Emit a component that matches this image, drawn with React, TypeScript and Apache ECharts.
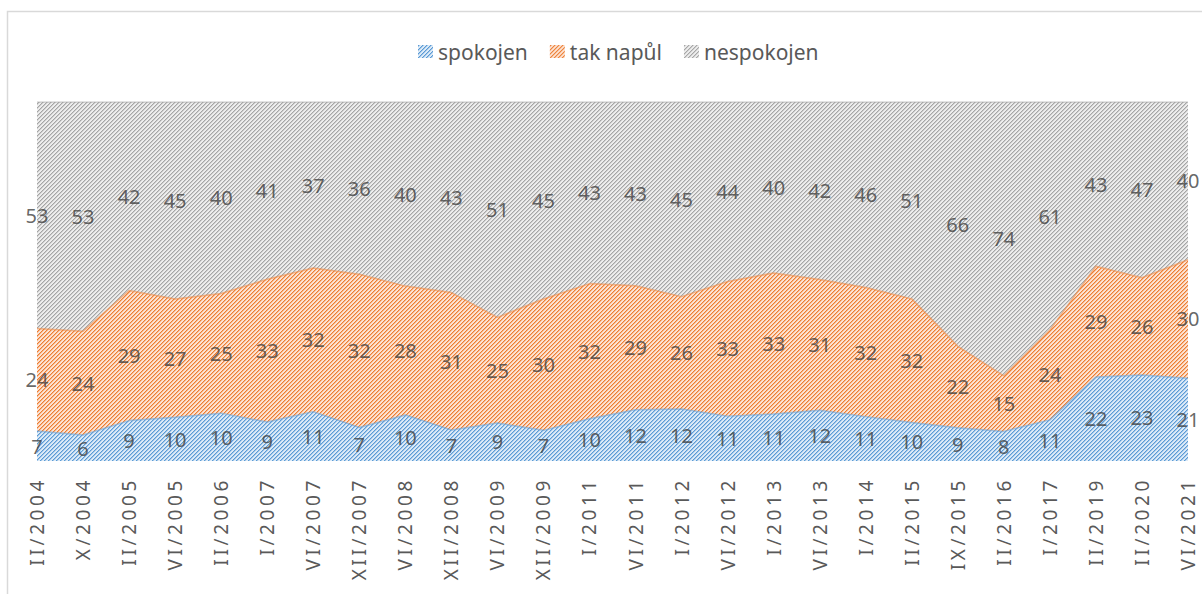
import React, { useEffect, useRef } from "react";
import * as echarts from "echarts";

const categories = [
  "II/2004", "X/2004", "II/2005", "VI/2005", "II/2006", "I/2007", "VI/2007", "XII/2007",
  "VI/2008", "XII/2008", "VI/2009", "XII/2009", "I/2011", "VI/2011", "I/2012", "VI/2012",
  "I/2013", "VI/2013", "I/2014", "II/2015", "IX/2015", "II/2016", "I/2017", "II/2019",
  "II/2020", "VI/2021",
];
const spokojen = [7, 6, 9, 10, 10, 9, 11, 7, 10, 7, 9, 7, 10, 12, 12, 11, 11, 12, 11, 10, 9, 8, 11, 22, 23, 21];
const takNapul = [24, 24, 29, 27, 25, 33, 32, 32, 28, 31, 25, 30, 32, 29, 26, 33, 33, 31, 32, 32, 22, 15, 24, 29, 26, 30];
const nespokojen = [53, 53, 42, 45, 40, 41, 37, 36, 40, 43, 51, 45, 43, 43, 45, 44, 40, 42, 46, 51, 66, 74, 61, 43, 47, 40];
const seriesNames = ["spokojen", "tak napůl", "nespokojen"];

const palette = [
  { fg: "#5B9BD5", bg: "#DCEAF7", line: "rgba(91,155,213,0.55)" },
  { fg: "#ED7D31", bg: "#FCE3D3", line: "rgba(237,125,49,0.55)" },
  { fg: "#A5A5A5", bg: "#EDEDED", line: "rgba(165,165,165,0.55)" },
];

function hexToRgb(h: string) {
  const n = parseInt(h.slice(1), 16);
  return [(n >> 16) & 255, (n >> 8) & 255, n & 255];
}

function makePattern(fg: string, bg: string) {
  const c = document.createElement("canvas");
  c.width = 8;
  c.height = 8;
  const ctx = c.getContext("2d")!;
  ctx.fillStyle = bg;
  ctx.fillRect(0, 0, 8, 8);
  const f = hexToRgb(fg);
  const b = hexToRgb(bg);
  const mix = (t: number) =>
    `rgb(${Math.round(f[0] * t + b[0] * (1 - t))},${Math.round(f[1] * t + b[1] * (1 - t))},${Math.round(f[2] * t + b[2] * (1 - t))})`;
  for (let x = 0; x < 8; x++) {
    for (let y = 0; y < 8; y++) {
      const m = (x + y) % 4;
      if (m === 0) {
        ctx.fillStyle = mix(1);
        ctx.fillRect(x, y, 1, 1);
      } else if (m === 1) {
        ctx.fillStyle = mix(0.45);
        ctx.fillRect(x, y, 1, 1);
      }
    }
  }
  return { image: c, repeat: "repeat" } as any;
}

export default function App() {
  const ref = useRef<HTMLDivElement>(null);

  useEffect(() => {
    if (!ref.current) return;
    const chart = echarts.init(ref.current, undefined, { renderer: "svg" });

    const raw = [spokojen, takNapul, nespokojen];
    const totals = categories.map((_, i) => raw.reduce((s, arr) => s + arr[i], 0));
    const pct = raw.map((arr) => arr.map((v, i) => (v / totals[i]) * 100));
    const patterns = palette.map((p) => makePattern(p.fg, p.bg));

    const areaSeries = raw.map((_, k) => ({
      name: seriesNames[k],
      type: "line",
      stack: "total",
      symbol: "none",
      data: pct[k],
      lineStyle: { width: 1.5, color: palette[k].line },
      itemStyle: { color: palette[k].fg },
      areaStyle: { color: patterns[k], opacity: 1 },
      z: 2,
    }));

    const labelSeries = raw.map((arr, k) => ({
      name: "lbl" + k,
      type: "scatter",
      symbolSize: 1,
      itemStyle: { color: "rgba(0,0,0,0)" },
      clip: false,
      z: 5,
      data: arr.map((v, i) => {
        let below = 0;
        for (let j = 0; j < k; j++) below += pct[j][i];
        return [i, below + pct[k][i] / 2, v];
      }),
      label: {
        show: true,
        position: "inside",
        formatter: (p: any) => String(p.value[2]),
        fontFamily: "Noto Sans",
        fontSize: 20,
        color: "#404040",
      },
      emphasis: { disabled: true },
    }));

    chart.setOption({
      animation: false,
      legend: {
        top: 36,
        left: 413,
        icon: "rect",
        itemWidth: 15,
        itemHeight: 13,
        itemGap: 22,
        textStyle: { fontFamily: "Noto Sans", fontSize: 21, color: "#595959" },
        data: seriesNames.map((n, k) => ({ name: n, itemStyle: { color: patterns[k] } })),
      },
      grid: { left: 37, right: 14, top: 102, bottom: 133, containLabel: false },
      xAxis: {
        type: "category",
        boundaryGap: false,
        data: categories,
        axisLine: { show: false },
        axisTick: { show: false },
        axisLabel: {
          interval: 0,
          rotate: 90,
          margin: 16,
          fontFamily: "Noto Sans",
          fontSize: 19,
          color: "#595959",
        },
      },
      yAxis: { type: "value", min: 0, max: 100, show: false, splitLine: { show: false } },
      graphic: [
        {
          type: "polyline",
          shape: { points: [[7.5, 600], [7.5, 11.5], [1210, 11.5]] },
          style: { stroke: "#D9D9D9", lineWidth: 1.5, fill: "none" },
          silent: true,
        },
      ],
      series: [...areaSeries, ...labelSeries],
    });

    const catSet = new Set(categories);
    const spaceLabels = () => {
      const root = ref.current;
      if (!root) return;
      root.querySelectorAll("text").forEach((t) => {
        if (catSet.has((t.textContent || "").trim())) {
          t.setAttribute("letter-spacing", "3.6");
        }
      });
    };
    spaceLabels();
    chart.on("finished", spaceLabels);
    chart.on("rendered", spaceLabels);

    return () => chart.dispose();
  }, []);

  return (
    <div
      ref={ref}
      style={{ position: "absolute", left: 0, top: 0, width: 1202, height: 594, background: "#fff" }}
    />
  );
}
